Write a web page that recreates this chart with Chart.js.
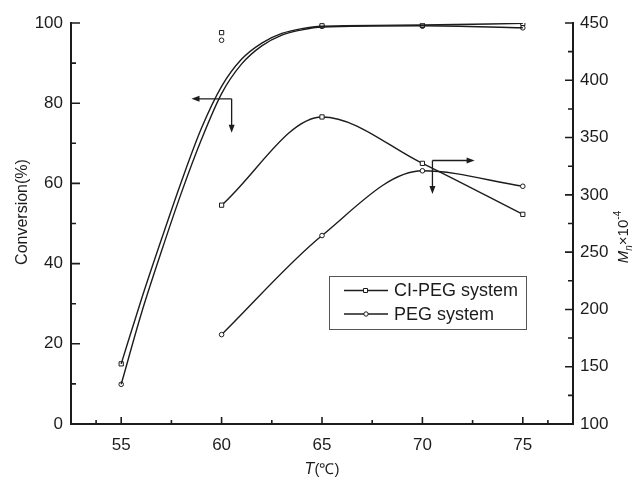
<!DOCTYPE html>
<html>
<head>
<meta charset="utf-8">
<script src="https://cdn.jsdelivr.net/npm/chart.js@4.4.0/dist/chart.umd.min.js"></script>
<style>
  html, body { margin: 0; padding: 0; background: #fff; }
</style>
</head>
<body>
<canvas id="chart" width="637" height="483"></canvas>
<script>
// measured points (conversion, left axis)
const temps = [55, 60, 65, 70, 75];
const convCiPeg = [15, 97.6, 99.3, 99.4, 99.9];
const convPeg = [9.9, 95.7, 99.2, 99.2, 98.8];

// fitted conversion curves as drawn in the figure (they do not pass the 60 C points)
const fitTemps = [55, 56, 57, 58, 59, 60, 61, 62, 63, 64, 65, 70, 75];
const fitCiPeg = [15, 31, 46, 60.5, 73.8, 84.2, 91, 95, 97.4, 98.6, 99.2, 99.5, 99.9];
const fitPeg = [9.9, 27.5, 43, 57.7, 71, 82.4, 89.8, 94.3, 97, 98.3, 99, 99.3, 98.8];

// Mn x 10^-4 (right axis)
const mnTemps = [60, 65, 70, 75];
const mnCiPeg = [291, 368, 327.5, 283];
const mnPeg = [178, 264.5, 321, 307.5];

// tick labels
const xTicks = [55, 60, 65, 70, 75];
const convTicks = [0, 20, 40, 60, 80, 100];
const mnTicks = [100, 150, 200, 250, 300, 350, 400, 450];

const legendLabels = ['CI-PEG system', 'PEG system'];

const ink = '#1c1c1c';
const family = '"Liberation Sans", Arial, sans-serif';

function pts(xs, ys) {
    return xs.map((x, i) => ({ x: x, y: ys[i] }));
}

function minors(list) {
    const out = [];
    for (let i = 0; i < list.length - 1; i++) out.push((list[i] + list[i + 1]) / 2);
    return out;
}

function arrowHead(ctx, x, y, dir) {
    // dir: 'left', 'right', 'down'
    ctx.beginPath();
    if (dir === 'left') { ctx.moveTo(x, y); ctx.lineTo(x + 8, y - 3); ctx.lineTo(x + 8, y + 3); }
    if (dir === 'right') { ctx.moveTo(x, y); ctx.lineTo(x - 8, y - 3); ctx.lineTo(x - 8, y + 3); }
    if (dir === 'down') { ctx.moveTo(x, y); ctx.lineTo(x - 3, y - 8); ctx.lineTo(x + 3, y - 8); }
    ctx.closePath();
    ctx.fill();
}

function drawParts(ctx, parts) {
    let w = 0;
    parts.forEach(p => { ctx.font = p.font; w += ctx.measureText(p.t).width; });
    let cx = -w / 2;
    parts.forEach(p => {
        ctx.font = p.font;
        ctx.fillText(p.t, cx, p.dy || 0);
        cx += ctx.measureText(p.t).width;
    });
}

const decor = {
    id: 'decor',
    afterDatasetsDraw(chart) {
        const { ctx, chartArea: a, scales } = chart;
        const x = scales.x, y = scales.y, y1 = scales.y1;
        ctx.save();
        ctx.strokeStyle = ink;
        ctx.fillStyle = ink;

        // inward tick marks
        ctx.lineWidth = 1.6;
        ctx.beginPath();
        xTicks.forEach(v => { const p = x.getPixelForValue(v); ctx.moveTo(p, a.bottom); ctx.lineTo(p, a.bottom - 7); });
        minors([52.5].concat(xTicks, [77.5])).forEach(v => { const p = x.getPixelForValue(v); ctx.moveTo(p, a.bottom); ctx.lineTo(p, a.bottom - 4); });
        convTicks.forEach(v => { const p = y.getPixelForValue(v); ctx.moveTo(a.left, p); ctx.lineTo(a.left + 9, p); });
        minors(convTicks).forEach(v => { const p = y.getPixelForValue(v); ctx.moveTo(a.left, p); ctx.lineTo(a.left + 5, p); });
        mnTicks.forEach(v => { const p = y1.getPixelForValue(v); ctx.moveTo(a.right, p); ctx.lineTo(a.right - 8, p); });
        minors(mnTicks).forEach(v => { const p = y1.getPixelForValue(v); ctx.moveTo(a.right, p); ctx.lineTo(a.right - 5, p); });
        ctx.stroke();

        // arrows pointing at the axes each pair of curves belongs to
        ctx.lineWidth = 1.3;
        let px = x.getPixelForValue(60.5), py = y.getPixelForValue(81.1);
        let tipX = x.getPixelForValue(58.5), tipY = y.getPixelForValue(72.6);
        ctx.beginPath();
        ctx.moveTo(px, py); ctx.lineTo(tipX + 6, py);
        ctx.moveTo(px, py); ctx.lineTo(px, tipY - 6);
        ctx.stroke();
        arrowHead(ctx, tipX, py, 'left');
        arrowHead(ctx, px, tipY, 'down');

        px = x.getPixelForValue(70.5); py = y1.getPixelForValue(330);
        tipX = x.getPixelForValue(72.6); tipY = y1.getPixelForValue(300.8);
        ctx.beginPath();
        ctx.moveTo(px, py); ctx.lineTo(tipX - 6, py);
        ctx.moveTo(px, py); ctx.lineTo(px, tipY - 6);
        ctx.stroke();
        arrowHead(ctx, tipX, py, 'right');
        arrowHead(ctx, px, tipY, 'down');

        // legend box inside the plot
        ctx.lineWidth = 1;
        ctx.strokeStyle = '#555';
        ctx.strokeRect(329.5, 276.5, 197, 53);
        const rows = [290.5, 314];
        ctx.strokeStyle = ink;
        ctx.textBaseline = 'middle';
        ctx.textAlign = 'left';
        ctx.font = '18px ' + family;
        rows.forEach((ry, i) => {
            ctx.lineWidth = 1.3;
            ctx.beginPath();
            ctx.moveTo(344, ry); ctx.lineTo(388, ry);
            ctx.stroke();
            ctx.lineWidth = 1;
            ctx.fillStyle = '#fff';
            ctx.beginPath();
            if (i === 0) ctx.rect(363.5, ry - 2, 4, 4);
            else ctx.arc(366, ry, 2.2, 0, Math.PI * 2);
            ctx.fill(); ctx.stroke();
            ctx.fillStyle = ink;
            ctx.fillText(legendLabels[i], 394, ry + 1);
        });

        // axis titles
        ctx.textBaseline = 'middle';
        ctx.save();
        ctx.translate(23, 212);
        ctx.rotate(-Math.PI / 2);
        ctx.textAlign = 'center';
        ctx.font = '16px ' + family;
        ctx.fillText('Conversion(%)', 0, 0);
        ctx.restore();

        ctx.save();
        ctx.translate(624, 237);
        ctx.rotate(-Math.PI / 2);
        ctx.textAlign = 'left';
        drawParts(ctx, [
            { t: 'M', font: 'italic 15px ' + family },
            { t: 'n', font: 'italic 10px ' + family, dy: 5 },
            { t: '\u00d710', font: '15px ' + family },
            { t: '-4', font: '10px ' + family, dy: -6 }
        ]);
        ctx.restore();

        ctx.save();
        ctx.translate(322, 470);
        ctx.textAlign = 'left';
        drawParts(ctx, [
            { t: 'T', font: 'italic 16px ' + family },
            { t: '(\u2103)', font: '15px ' + family }
        ]);
        ctx.restore();

        ctx.restore();
    }
};

const lineStyle = {
    borderColor: ink,
    borderWidth: 1.4,
    pointRadius: 0,
    fill: false,
    cubicInterpolationMode: 'monotone'
};

const markerStyle = {
    showLine: false,
    borderColor: ink,
    backgroundColor: '#fff',
    pointBorderWidth: 1,
    pointBackgroundColor: '#fff',
    pointBorderColor: ink
};

new Chart(document.getElementById('chart').getContext('2d'), {
    type: 'line',
    data: {
        datasets: [
            Object.assign({ label: 'CI-PEG fit', data: pts(fitTemps, fitCiPeg), yAxisID: 'y' }, lineStyle),
            Object.assign({ label: 'PEG fit', data: pts(fitTemps, fitPeg), yAxisID: 'y' }, lineStyle),
            Object.assign({ label: 'CI-PEG conv', data: pts(temps, convCiPeg), yAxisID: 'y', pointStyle: 'rect', pointRadius: 3 }, markerStyle),
            Object.assign({ label: 'PEG conv', data: pts(temps, convPeg), yAxisID: 'y', pointStyle: 'circle', pointRadius: 2.3 }, markerStyle),
            Object.assign({}, lineStyle, { label: 'CI-PEG Mn', data: pts(mnTemps, mnCiPeg), yAxisID: 'y1', pointStyle: 'rect', pointRadius: 3, pointBorderWidth: 1, pointBackgroundColor: '#fff', pointBorderColor: ink }),
            Object.assign({}, lineStyle, { label: 'PEG Mn', data: pts(mnTemps, mnPeg), yAxisID: 'y1', pointStyle: 'circle', pointRadius: 2.3, pointBorderWidth: 1, pointBackgroundColor: '#fff', pointBorderColor: ink })
        ]
    },
    options: {
        responsive: false,
        animation: false,
        devicePixelRatio: 1,
        layout: { padding: { top: 23, left: 0, right: 0, bottom: 0 } },
        plugins: {
            legend: { display: false },
            tooltip: { enabled: false }
        },
        scales: {
            x: {
                type: 'linear',
                min: 52.5,
                max: 77.5,
                afterBuildTicks: s => { s.ticks = xTicks.map(v => ({ value: v })); },
                afterFit: s => { s.height = 59; },
                grid: { display: false, drawTicks: false },
                border: { display: true, width: 2, color: ink },
                ticks: { color: ink, font: { size: 17, family: family }, padding: 11, maxRotation: 0 }
            },
            y: {
                position: 'left',
                min: 0,
                max: 100,
                afterBuildTicks: s => { s.ticks = convTicks.map(v => ({ value: v })); },
                afterFit: s => { s.width = 71; },
                grid: { display: false, drawTicks: false },
                border: { display: true, width: 2, color: ink },
                ticks: { color: ink, font: { size: 17, family: family }, padding: 8 }
            },
            y1: {
                position: 'right',
                min: 100,
                max: 450,
                afterBuildTicks: s => { s.ticks = mnTicks.map(v => ({ value: v })); },
                afterFit: s => { s.width = 64; },
                grid: { display: false, drawTicks: false },
                border: { display: true, width: 2, color: ink },
                ticks: { color: ink, font: { size: 17, family: family }, padding: 7 }
            }
        }
    },
    plugins: [decor]
});
</script>
</body>
</html>
